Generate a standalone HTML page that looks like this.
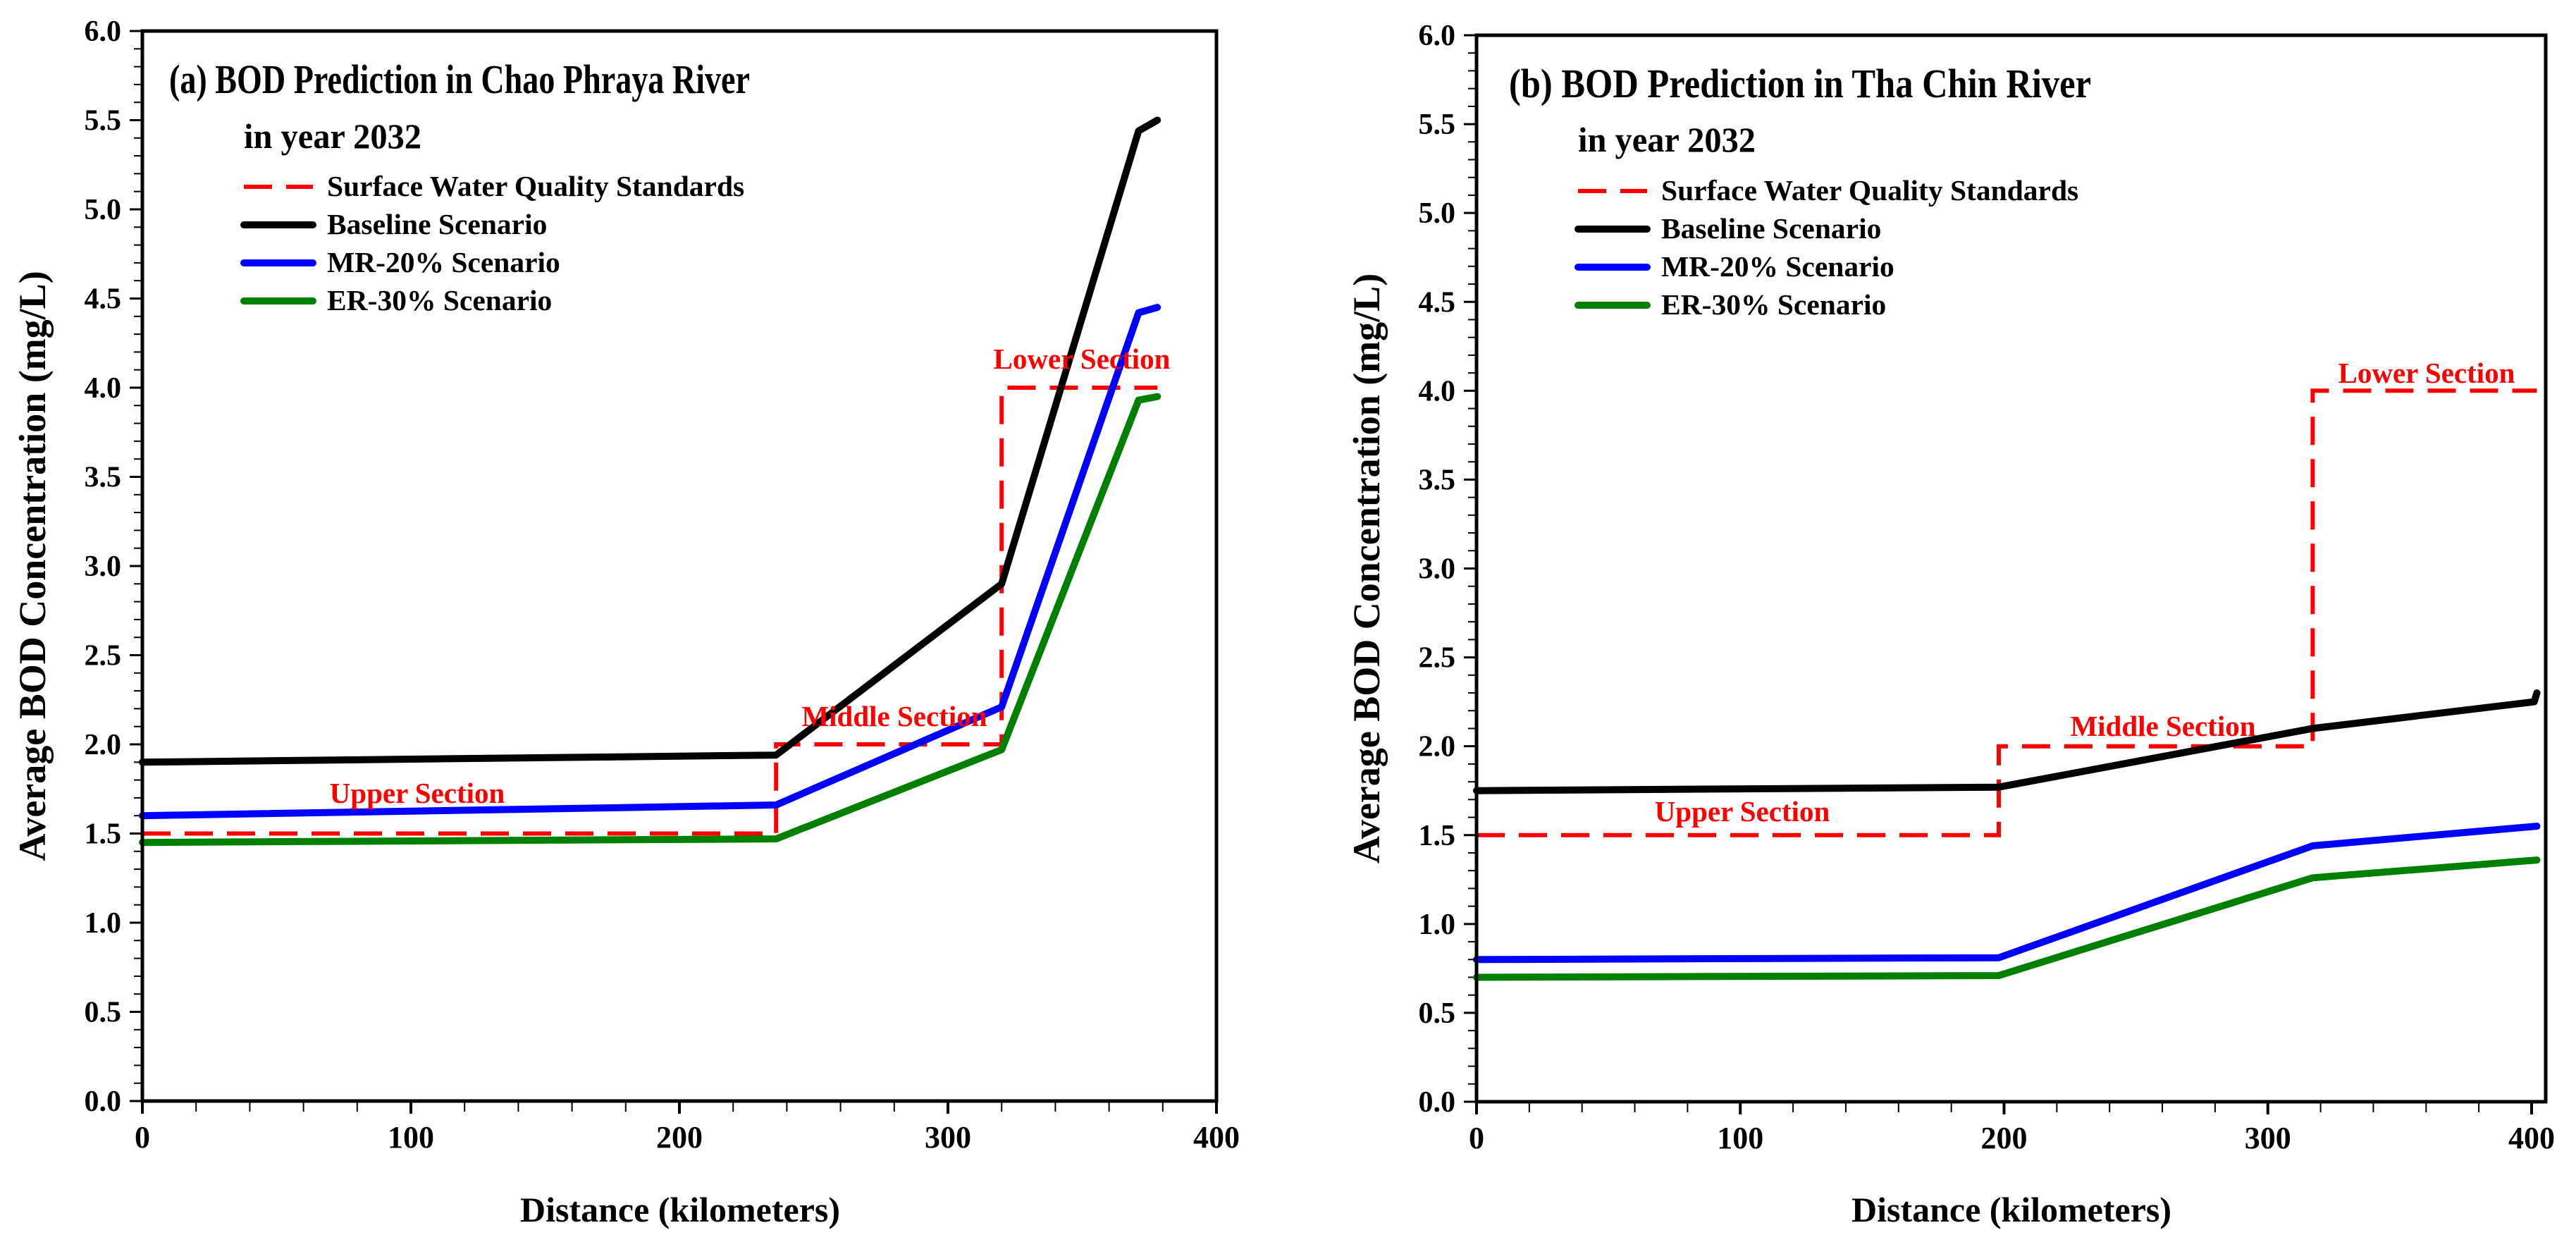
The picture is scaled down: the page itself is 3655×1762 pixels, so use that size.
<!DOCTYPE html>
<html><head><meta charset="utf-8">
<style>
html,body{margin:0;padding:0;background:#fff;}
svg{display:block;font-family:"Liberation Serif",serif;font-weight:bold;}
</style></head>
<body>
<svg id="chart" width="3655" height="1762" viewBox="0 0 3655 1762" xmlns="http://www.w3.org/2000/svg"></svg>
<script>
// ---- Panel (a) Chao Phraya data ----
const aBaselineX = [0, 236, 320, 371, 378];
const aBaselineY = [1.90, 1.94, 2.90, 5.44, 5.50];
const aMrX = [0, 236, 320, 371, 378];
const aMrY = [1.60, 1.66, 2.21, 4.42, 4.45];
const aErX = [0, 236, 320, 371, 378];
const aErY = [1.45, 1.47, 1.97, 3.93, 3.95];
const aStdX = [0, 236, 236, 320, 320, 378];
const aStdY = [1.5, 1.5, 2.0, 2.0, 4.0, 4.0];
// ---- Panel (b) Tha Chin data ----
const bBaselineX = [0, 198, 317, 401, 402];
const bBaselineY = [1.75, 1.77, 2.10, 2.25, 2.30];
const bMrX = [0, 198, 317, 402];
const bMrY = [0.80, 0.81, 1.44, 1.55];
const bErX = [0, 198, 317, 402];
const bErY = [0.70, 0.71, 1.26, 1.36];
const bStdX = [0, 198, 198, 317, 317, 402];
const bStdY = [1.5, 1.5, 2.0, 2.0, 4.0, 4.0];
// ---- ticks ----
const yTickLabels = ["0.0","0.5","1.0","1.5","2.0","2.5","3.0","3.5","4.0","4.5","5.0","5.5","6.0"];
const xTickLabels = ["0","100","200","300","400"];
const legendLabels = ["Surface Water Quality Standards","Baseline Scenario","MR-20% Scenario","ER-30% Scenario"];

const NS = "http://www.w3.org/2000/svg";
const svg = document.getElementById('chart');
function mk(tag, attrs, parent){
  const e = document.createElementNS(NS, tag);
  for (const k in attrs) e.setAttribute(k, attrs[k]);
  (parent||svg).appendChild(e);
  return e;
}
function txt(s, attrs, parent){ const t = mk('text', attrs, parent); t.textContent = s; return t; }

function panel(cfg){
  const g = mk('g', {});
  
  
  const X = v => cfg.x0 + (v/400)*(cfg.x400 - cfg.x0);
  const Y = v => cfg.yb + (v/6)*(cfg.yt - cfg.yb);
  for (let i=0;i<=60;i++){
    const v=i/10, y=Y(v), major = i%5===0;
    const t = mk('line',{x1:cfg.x0-(major?18:12),x2:cfg.x0,y1:y,y2:y,stroke:'#000','stroke-width':major?3:2},g);
    
    
  }
  yTickLabels.forEach((s,i)=>{
    const t = txt(s,{x:cfg.x0-30,y:Y(i*0.5)+14,'font-size':42,'text-anchor':'end'},g);
    
    
  });
  for (let k=0;k<=400;k+=20){
    const x=X(k), major=k%100===0;
    const t = mk('line',{x1:x,x2:x,y1:cfg.yb,y2:cfg.yb+(major?18:15),stroke:'#000','stroke-width':major?4:2},g);
    
    
  }
  xTickLabels.forEach((s,i)=>{
    const t = txt(s,{x:X(i*100),y:cfg.yb+66,'font-size':44,'text-anchor':'middle'},g);
    
    
  });
  const pts = (xs,ys)=>xs.map((x,i)=>X(x).toFixed(1)+','+Y(ys[i]).toFixed(1)).join(' ');
  const std = mk('polyline',{points:pts(cfg.stdX,cfg.stdY),fill:'none',stroke:'#ff0000','stroke-width':6,'stroke-dasharray':'40 20'},g);
  
  
  const series=[[cfg.erX,cfg.erY,'#008000','er30-line'],[cfg.mrX,cfg.mrY,'#0000ff','mr20-line'],[cfg.baseX,cfg.baseY,'#000000','baseline-line']];
  series.forEach(s=>{
    const p = mk('polyline',{points:pts(s[0],s[1]),fill:'none',stroke:s[2],'stroke-width':10,'stroke-linejoin':'round','stroke-linecap':'round'},g);
    
    
  });
  const frame = mk('rect',{x:cfg.x0,y:cfg.yt,width:cfg.xr-cfg.x0,height:cfg.yb-cfg.yt,fill:'none',stroke:'#000','stroke-width':5},g);
  
  
  cfg.sections.forEach(s=>{
    const t = txt(s[0],{x:s[1],y:s[2],'font-size':41,fill:'#ff0000','text-anchor':'middle'},g);
    
    
  });
  const tt = txt(cfg.title,{x:cfg.titleX,y:cfg.titleY,'font-size':58,textLength:cfg.titleLen,lengthAdjust:'spacingAndGlyphs'},g);
  
  
  const yr = txt('in year 2032',{x:cfg.legX,y:cfg.yearY,'font-size':50,textLength:252,lengthAdjust:'spacingAndGlyphs'},g);
  
  
  const cols=['#ff0000','#000000','#0000ff','#008000'];
  legendLabels.forEach((s,i)=>{
    const y=cfg.legY0+i*54;
    const l = mk('line',{x1:cfg.legX,x2:cfg.legX+98,y1:y-13,y2:y-13,stroke:cols[i],'stroke-width':i===0?6:10,'stroke-linecap':i===0?'butt':'round','stroke-dasharray':i===0?'40 20':'none'},g);
    
    
    const t = txt(s,{x:cfg.legX+118,y:y,'font-size':41.5},g);
    
    
  });
  const yl = txt('Average BOD Concentration (mg/L)',{x:0,y:0,'font-size':54,'text-anchor':'middle',transform:`translate(${cfg.ylabX},${(cfg.yt+cfg.yb)/2}) rotate(-90)`},g);
  
  
  const xl = txt('Distance (kilometers)',{x:cfg.xlabX,y:1733,'font-size':50,'text-anchor':'middle'},g);
  
  
}

panel({name:'panel-a-chao-phraya', x0:202, x400:1726, xr:1726, yt:44, yb:1562,
  baseX:aBaselineX, baseY:aBaselineY, mrX:aMrX, mrY:aMrY, erX:aErX, erY:aErY, stdX:aStdX, stdY:aStdY,
  title:'(a)  BOD Prediction in Chao Phraya River', titleX:240, titleY:132, titleLen:824,
  legX:346, yearY:210, legY0:278,
  sections:[['Upper Section',592,1139,'upper-section-label'],['Middle Section',1269,1030,'middle-section-label'],['Lower Section',1535,523,'lower-section-label']],
  ylabX:64, xlabX:965});
panel({name:'panel-b-tha-chin', x0:2095, x400:3592, xr:3612, yt:50, yb:1563,
  baseX:bBaselineX, baseY:bBaselineY, mrX:bMrX, mrY:bMrY, erX:bErX, erY:bErY, stdX:bStdX, stdY:bStdY,
  title:'(b) BOD Prediction in Tha Chin River', titleX:2141, titleY:138, titleLen:826,
  legX:2239, yearY:215, legY0:284,
  sections:[['Upper Section',2472,1165,'upper-section-label'],['Middle Section',3069,1044,'middle-section-label'],['Lower Section',3443,543,'lower-section-label']],
  ylabX:1957, xlabX:2854});
</script>
</body></html>
